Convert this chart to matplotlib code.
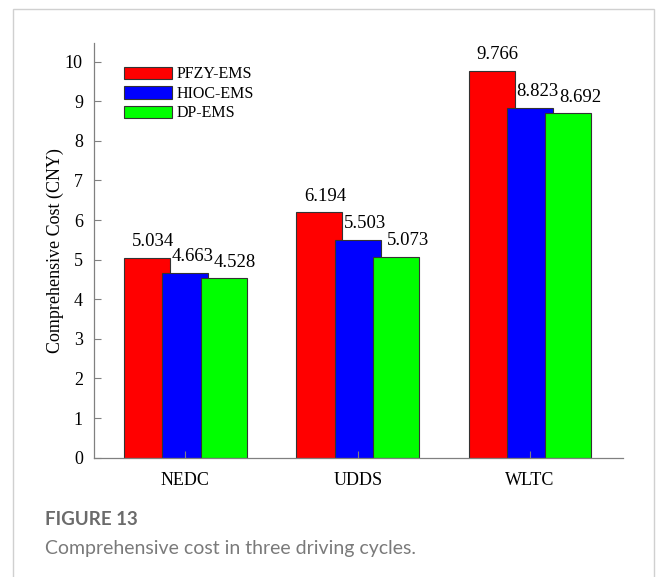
import numpy as np
import matplotlib
matplotlib.use("Agg")
import matplotlib.pyplot as plt
import matplotlib.patches as patches

cycles = ["NEDC", "UDDS", "WLTC"]
strategies = ["PFZY-EMS", "HIOC-EMS", "DP-EMS"]
pfzy_cost = [5.034, 6.194, 9.766]
hioc_cost = [4.663, 5.503, 8.823]
dp_cost = [4.528, 5.073, 8.692]
yticks = list(range(0, 11))

series = [pfzy_cost, hioc_cost, dp_cost]
colors = ["#ff0000", "#0000ff", "#00ff00"]
offsets = [-0.223, 0.0, 0.223]
label_shift = [0.033, 0.045, 0.066]

plt.rcParams["font.family"] = ["Liberation Serif", "DejaVu Serif"]

fig = plt.figure(figsize=(6.56, 5.77), dpi=100)
ax = fig.add_axes([0.1433, 0.2068, 0.9491 - 0.1433, 0.926 - 0.2068])

x = np.arange(1, len(cycles) + 1)
for vals, name, color, off, shift in zip(series, strategies, colors, offsets, label_shift):
    ax.bar(x + off, vals, width=0.267, color=color, edgecolor="#333333",
           linewidth=0.8, label=name)
    for xi, v in zip(x, vals):
        ax.text(xi + off + shift, v + 0.3, f"{v:.3f}", ha="center", va="baseline",
                fontsize=13.5)

ax.set_xlim(0.47, 3.537)
ax.set_ylim(0, 10.48)
ax.set_xticks(x)
ax.set_xticklabels(cycles, fontsize=13)
ax.set_yticks(yticks)
ax.set_yticklabels([str(t) for t in yticks], fontsize=13)
ax.tick_params(direction="in", length=5, width=0.8, color="#808080")
ax.tick_params(axis="y", pad=8)
ax.tick_params(axis="x", pad=10)
for side in ["top", "right"]:
    ax.spines[side].set_visible(False)
for side in ["left", "bottom"]:
    ax.spines[side].set_color("#808080")
    ax.spines[side].set_linewidth(0.9)
ax.set_ylabel("Comprehensive Cost (CNY)", fontsize=13)
ax.yaxis.set_label_coords(-0.057, 0.5)

ax.legend(loc="upper left", bbox_to_anchor=(0.0568, 0.943), frameon=False,
          fontsize=11.5, handlelength=3.0, handleheight=0.83, handletextpad=0.3,
          labelspacing=0.22, borderpad=0, borderaxespad=0)

# card border and caption
fig.patches.append(patches.Rectangle((12.5 / 656, -0.1), (654 - 12.5) / 656, 1.1 - 9 / 577,
                                     transform=fig.transFigure, fill=False,
                                     edgecolor="#d0d0d0", linewidth=1))
fig.text(45 / 656, 1 - 525 / 577, "FIGURE 13", family="Lato", weight="bold",
         fontsize=13.5, color="#6b6b6b", va="baseline")
fig.text(45 / 656, 1 - 554 / 577, "Comprehensive cost in three driving cycles.",
         family="Lato", fontsize=14, color="#7a7a7a", va="baseline")

fig.savefig("out.png", dpi=100)
